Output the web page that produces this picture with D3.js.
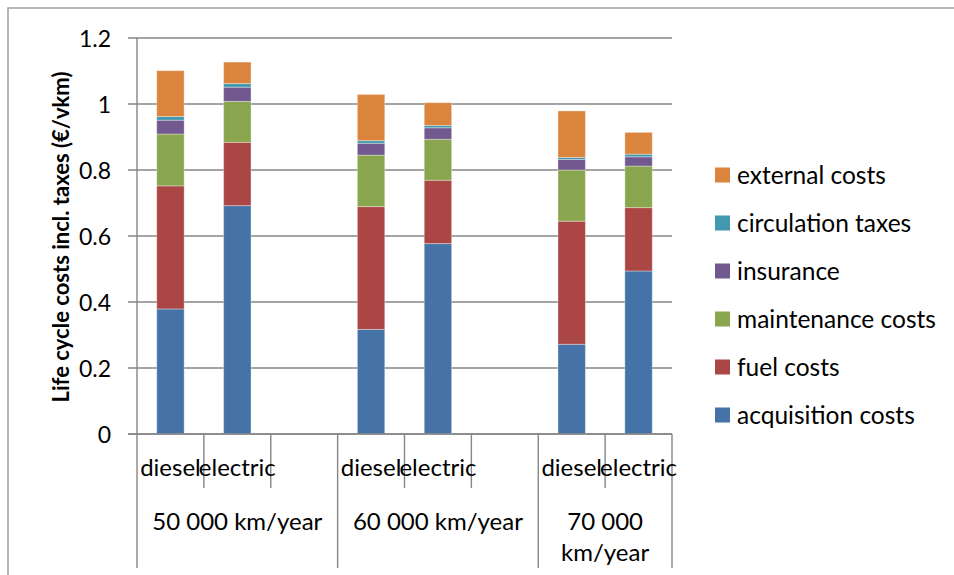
<!DOCTYPE html>
<html>
<head>
<meta charset="utf-8">
<script src="https://cdn.jsdelivr.net/npm/d3@7"></script>
<style>
  html, body { margin: 0; padding: 0; background: #fff; }
  svg { display: block; font-family: Lato, "Open Sans", sans-serif; }
</style>
</head>
<body>
<svg id="chart" width="954" height="575"></svg>
<script>
// Annual mileage groups and vehicle types
const groups = ["50 000 km/year", "60 000 km/year", "70 000 km/year"];
const vehicles = ["diesel", "electric"];

// Cost components (€/vkm), one value per bar: 50k diesel, 50k electric, 60k diesel, 60k electric, 70k diesel, 70k electric
const acquisition = [0.379, 0.692, 0.317, 0.577, 0.272, 0.494];
const fuel        = [0.373, 0.192, 0.372, 0.192, 0.373, 0.192];
const maintenance = [0.157, 0.124, 0.156, 0.124, 0.155, 0.126];
const insurance   = [0.042, 0.043, 0.036, 0.035, 0.032, 0.028];
const circulation = [0.011, 0.011, 0.008, 0.007, 0.006, 0.008];
const external    = [0.139, 0.065, 0.140, 0.069, 0.141, 0.066];

const seriesNames = ["acquisition costs", "fuel costs", "maintenance costs", "insurance", "circulation taxes", "external costs"];
const seriesValues = [acquisition, fuel, maintenance, insurance, circulation, external];
const seriesColors = ["#4572A7", "#AA4643", "#89A54E", "#71588F", "#4198AF", "#DB843D"];

const yTicks = [0, 0.2, 0.4, 0.6, 0.8, 1.0, 1.2];
const yTitle = "Life cycle costs incl. taxes (€/vkm)";

// Category slots: each group holds its vehicles followed by an empty spacer slot (except the last)
const slots = [];
const bars = [];
groups.forEach((g, gi) => {
  vehicles.forEach((v, vi) => {
    const key = g + "|" + v;
    slots.push({ key, group: g, label: v });
    bars.push({ key, group: g, vehicle: v, idx: gi * vehicles.length + vi });
  });
  if (gi < groups.length - 1) slots.push({ key: g + "|gap", group: g, label: "" });
});

// Rows for the stack layout
const rows = bars.map(b => {
  const r = { key: b.key };
  seriesNames.forEach((s, si) => { r[s] = seriesValues[si][b.idx]; });
  return r;
});

const svg = d3.select("#chart");
const plotLeft = 137, plotRight = 672, plotTop = 38, plotBottom = 434;
const gridColor = "#868686";

const x = d3.scaleBand().domain(slots.map(s => s.key)).range([plotLeft, plotRight]).padding(0);
const y = d3.scaleLinear().domain([0, 1.2]).range([plotBottom, plotTop]);
const color = d3.scaleOrdinal().domain(seriesNames).range(seriesColors);

// Outer chart frame
svg.append("path")
  .attr("d", `M8,575 V8 H954`)
  .attr("fill", "none")
  .attr("stroke", "#a0a0a0")
  .attr("stroke-width", 1.5);

// Horizontal gridlines with tick marks
svg.append("g")
  .selectAll("line")
  .data(yTicks)
  .join("line")
  .attr("x1", plotLeft - 9)
  .attr("x2", plotRight)
  .attr("y1", d => y(d))
  .attr("y2", d => y(d))
  .attr("stroke", gridColor)
  .attr("stroke-width", 1.4);

const yAxis = d3.axisLeft(y).tickValues(yTicks).tickSize(0).tickPadding(0).tickFormat(d3.format("~g"));
const yAxisG = svg.append("g")
  .attr("transform", `translate(${plotLeft - 26},0)`)
  .call(yAxis);
yAxisG.select(".domain").remove();
yAxisG.selectAll("text")
  .attr("font-size", 23)
  .attr("fill", "#000")
  .attr("dy", "0.35em")
  .attr("font-family", "Lato, sans-serif");

// Vertical value axis line
svg.append("line")
  .attr("x1", plotLeft).attr("x2", plotLeft)
  .attr("y1", plotTop).attr("y2", plotBottom)
  .attr("stroke", gridColor).attr("stroke-width", 1.4);

// Y axis title
svg.append("text")
  .attr("transform", `translate(69,${(plotTop + plotBottom) / 2 + 1}) rotate(-90)`)
  .attr("text-anchor", "middle")
  .attr("font-size", 22)
  .attr("font-weight", "bold")
  .attr("fill", "#000")
  .text(yTitle);

// Stacked bars
const stacked = d3.stack().keys(seriesNames)(rows);
const barW = x.bandwidth() * 0.41;
svg.append("g")
  .selectAll("g")
  .data(stacked)
  .join("g")
  .attr("fill", d => color(d.key))
  .selectAll("rect")
  .data(d => d)
  .join("rect")
  .attr("x", d => x(d.data.key) + (x.bandwidth() - barW) / 2)
  .attr("width", barW)
  .attr("y", d => y(d[1]))
  .attr("height", d => y(d[0]) - y(d[1]))
  .attr("stroke", "rgba(255,255,255,0.35)")
  .attr("stroke-width", 1);

// Category axis: baseline and slot dividers
const catG = svg.append("g");
catG.append("line")
  .attr("x1", plotLeft - 9).attr("x2", plotRight)
  .attr("y1", plotBottom).attr("y2", plotBottom)
  .attr("stroke", gridColor).attr("stroke-width", 1.4);

const boundaries = [];
slots.forEach((s, i) => {
  const isGroupStart = i === 0 || slots[i - 1].group !== s.group;
  boundaries.push({ x: x(s.key), long: isGroupStart });
});
boundaries.push({ x: plotRight, long: true });

catG.selectAll("line.div")
  .data(boundaries)
  .join("line")
  .attr("class", "div")
  .attr("x1", d => d.x).attr("x2", d => d.x)
  .attr("y1", plotBottom)
  .attr("y2", d => d.long ? 568 : 488)
  .attr("stroke", gridColor)
  .attr("stroke-width", 1.4);

// Vehicle labels
catG.selectAll("text.veh")
  .data(slots.filter(s => s.label))
  .join("text")
  .attr("class", "veh")
  .attr("x", d => x(d.key) + x.bandwidth() / 2)
  .attr("y", 476)
  .attr("text-anchor", "middle")
  .attr("font-size", 24)
  .attr("fill", "#000")
  .text(d => d.label);

// Group labels, wrapped when the group is too narrow
groups.forEach(g => {
  const gs = slots.filter(s => s.group === g);
  const x0 = x(gs[0].key);
  const x1 = x(gs[gs.length - 1].key) + x.bandwidth();
  const cx = (x0 + x1) / 2;
  const t = catG.append("text")
    .attr("x", cx)
    .attr("y", 530)
    .attr("text-anchor", "middle")
    .attr("font-size", 24)
    .attr("fill", "#000")
    .text(g);
  if (t.node().getComputedTextLength() > (x1 - x0) - 8) {
    const words = g.split(" ");
    t.text(null);
    t.append("tspan").attr("x", cx).attr("y", 530).text(words.slice(0, 2).join(" "));
    t.append("tspan").attr("x", cx).attr("y", 561).text(words.slice(2).join(" "));
  }
});

// Legend (top entry is the top of the stack)
const legend = svg.append("g")
  .selectAll("g")
  .data(seriesNames.slice().reverse())
  .join("g")
  .attr("transform", (d, i) => `translate(715,${175 + i * 48})`);
legend.append("rect")
  .attr("x", 0).attr("y", -7.5)
  .attr("width", 15).attr("height", 15)
  .attr("fill", d => color(d));
legend.append("text")
  .attr("x", 22)
  .attr("y", 0)
  .attr("dy", "0.35em")
  .attr("font-size", 24.5)
  .attr("fill", "#000")
  .text(d => d);
</script>
</body>
</html>
